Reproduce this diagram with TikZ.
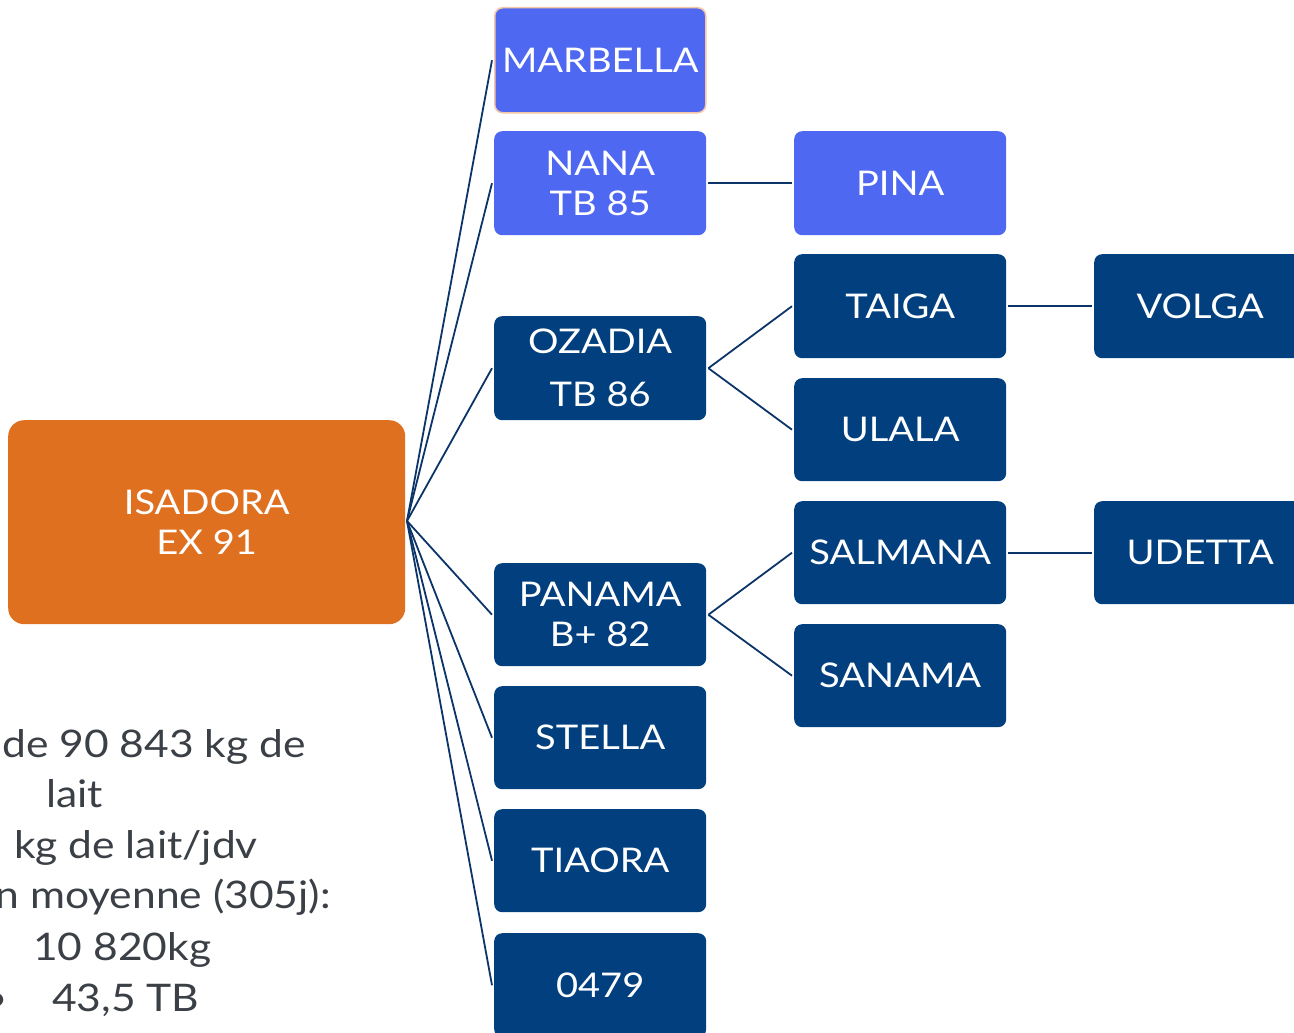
\documentclass[tikz,border=0pt]{standalone}
\usepackage{fontspec}
\setmainfont{Lato}[FakeStretch=1.12]
\definecolor{bblue}{RGB}{79,104,242}
\definecolor{navy}{RGB}{2,63,126}
\definecolor{orng}{RGB}{223,112,32}
\definecolor{lnc}{RGB}{11,52,104}
\definecolor{txtg}{RGB}{59,64,70}
\definecolor{peach}{RGB}{245,198,165}
\begin{document}
\begin{tikzpicture}[x=1pt,y=-1pt,
  box/.style={anchor=north west,minimum width=212pt,minimum height=104pt,rounded corners=8pt,
    text=white,align=center,inner sep=0pt,font=\fontsize{34}{40}\selectfont},
  bluebox/.style={box,fill=bblue},
  navybox/.style={box,fill=navy},
  conn/.style={draw=lnc,line width=1.8pt},
  side/.style={text=txtg,font=\fontsize{38}{46}\selectfont,inner sep=0pt,anchor=base west}]
\useasboundingbox (0,0) rectangle (1294,1033);
% root
\node[anchor=north west,minimum width=397pt,minimum height=204pt,rounded corners=16pt,fill=orng,
  text=white,align=center,inner sep=0pt,font=\fontsize{34}{40}\selectfont] (isa) at (8,420) {ISADORA\\EX 91};
% column 1
\node[bluebox,draw=peach,line width=1.5pt,minimum width=211pt,minimum height=105pt] (mar) at (494,7) {MARBELLA};
\node[bluebox] (nana) at (494,131) {NANA\\TB 85};
\node[navybox,font=\fontsize{34}{53}\selectfont] (oza) at (494,316) {OZADIA\\TB 86};
\node[navybox,minimum height=103pt] (pan) at (494,563) {PANAMA\\B+ 82};
\node[navybox,minimum height=103pt] (ste) at (494,686) {STELLA};
\node[navybox,minimum height=103pt] (tia) at (494,809) {TIAORA};
\node[navybox] (num) at (494,933) {0479};
% column 2
\node[bluebox] (pina) at (794,131) {PINA};
\node[navybox] (tai) at (794,254) {TAIGA};
\node[navybox,minimum height=103pt] (ula) at (794,378) {ULALA};
\node[navybox,minimum height=103pt] (sal) at (794,501) {SALMANA};
\node[navybox,minimum height=103pt] (san) at (794,624) {SANAMA};
% column 3
\node[navybox] (vol) at (1094,254) {VOLGA};
\node[navybox,minimum height=103pt] (ude) at (1094,501) {UDETTA};
% connectors
\coordinate (hub) at (407,521);
\foreach \t in {mar,nana,oza,pan,ste,tia,num}{
  \draw[conn] (hub) -- ([xshift=-2pt]\t.west);
}
\draw[conn] ([xshift=2pt]nana.east) -- ([xshift=-2pt]pina.west);
\draw[conn] ([xshift=2pt]oza.east) -- ([xshift=-2pt]tai.west);
\draw[conn] ([xshift=2pt]oza.east) -- ([xshift=-2pt]ula.west);
\draw[conn] ([xshift=2pt]pan.east) -- ([xshift=-2pt]sal.west);
\draw[conn] ([xshift=2pt]pan.east) -- ([xshift=-2pt]san.west);
\draw[conn] ([xshift=2pt]tai.east) -- ([xshift=-2pt]vol.west);
\draw[conn] ([xshift=2pt]sal.east) -- ([xshift=-2pt]ude.west);
% side text
\node[side,anchor=base east] (t1) at (306,757) {de 90 843 kg de};
\node[side] (t2) at (46,807) {lait};
\node[side,anchor=base east] (t3) at (258,858) {kg de lait/jdv};
\node[side,anchor=base east] (t4) at (331,908) {n moyenne (305j):};
\node[side] (t5) at (33,960) {10 820kg};
\node[side] (t6) at (52,1011) {43,5 TB};
\node[side,anchor=base east] (t7) at (8,1011) {•};
\end{tikzpicture}
\end{document}
